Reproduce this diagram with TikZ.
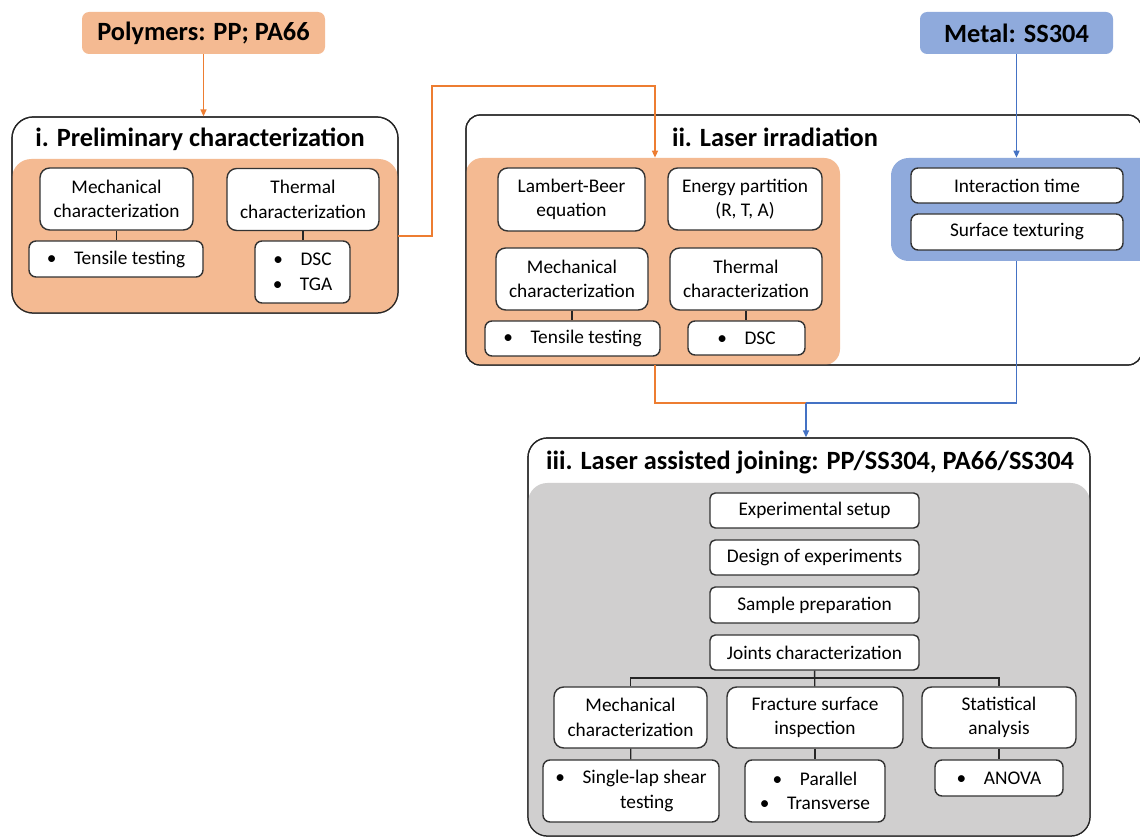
\documentclass[tikz,border=0pt]{standalone}
\usepackage{fontspec}
\setmainfont{Carlito}
\usetikzlibrary{arrows.meta,positioning,calc}
\usepackage{xcolor}
\definecolor{peach}{HTML}{F4BA92}
\definecolor{sky}{HTML}{8FAADC}
\definecolor{ash}{HTML}{D0CFCF}
\definecolor{lineor}{HTML}{ED7D31}
\definecolor{linebl}{HTML}{4472C4}
\newdimen\pxu \pxu=0.02cm

\begin{document}
\begin{tikzpicture}[x=0.02cm, y=-0.02cm,
  frame/.style={rectangle, draw=black!85, line width=0.7pt, inner sep=0pt},
  zone/.style={rectangle, inner sep=0pt},
  head/.style={font=\fontsize{15}{18}\selectfont\bfseries, inner sep=0pt},
  box/.style={rectangle, rounded corners=5.5pt, draw=black!80, line width=0.8pt, fill=white, align=center, font=\fontsize{11}{14}\selectfont, inner sep=0pt},
  bbox/.style={box, rounded corners=4pt},
  sbox/.style={box, rounded corners=3pt},
  olin/.style={draw=lineor, line width=0.8pt},
  blin/.style={draw=linebl, line width=0.8pt},
  tip/.style={-{Triangle[length=1.4mm, width=1.2mm]}},
  lnk/.style={draw=black!85, line width=0.8pt}
]
\clip (0,0) rectangle (1140,837);
% materiales
\node[zone, fill=peach, rounded corners=4pt, minimum width=243\pxu, minimum height=42\pxu, head] (poly) at (203.5,33) {Polymers: PP; PA66};
\node[zone, fill=sky, rounded corners=4pt, minimum width=193\pxu, minimum height=42\pxu, head] (metal) at (1016.5,33) {Metal: SS304};
% i. preliminary characterization
\node[frame, fill=white, rounded corners=12pt, minimum width=386\pxu, minimum height=196\pxu] (fr1) at (205,215) {};
\node[zone, fill=peach, rounded corners=11pt, minimum width=386\pxu, minimum height=154\pxu] (zn1) at (205,236) {};
\node[frame, rounded corners=12pt, minimum width=386\pxu, minimum height=196\pxu] at (205,215) {};
\node[head] (tt1) at (200,139) {i. Preliminary characterization};
\node[box, minimum width=153\pxu, minimum height=62\pxu] (mech1) at (116.5,199) {Mechanical\\characterization};
\node[bbox, minimum width=174\pxu, minimum height=36\pxu] (tens1) at (116,259) {\textbullet\hspace{10pt}Tensile testing};
\node[box, minimum width=152\pxu, minimum height=62\pxu] (therm1) at (303,199.5) {Thermal\\characterization};
\node[bbox, minimum width=95\pxu, minimum height=62\pxu] (dsc1) at (302.5,272) {\textbullet\hspace{10pt}DSC\\\textbullet\hspace{10pt}TGA};
% ii. laser irradiation
\node[frame, fill=white, rounded corners=8pt, minimum width=676\pxu, minimum height=250\pxu] (fr2) at (804,240) {};
\node[zone, fill=peach, rounded corners=9pt, minimum width=374\pxu, minimum height=207\pxu] (zn2) at (653,261.5) {};
\node[zone, fill=sky, rounded corners=10pt, minimum width=269\pxu, minimum height=103\pxu] (zn3) at (1025.5,209.5) {};
\node[frame, rounded corners=8pt, minimum width=676\pxu, minimum height=250\pxu] at (804,240) {};
\node[head] (tt2) at (775,137) {ii. Laser irradiation};
\node[box, minimum width=147\pxu, minimum height=63\pxu] (lamb) at (571.5,199.5) {Lambert-Beer\\equation};
\node[box, minimum width=154\pxu, minimum height=62\pxu] (ener) at (745,199) {Energy partition\\(R, T, A)};
\node[box, minimum width=152\pxu, minimum height=62\pxu] (mech2) at (572,279) {Mechanical\\characterization};
\node[box, minimum width=152\pxu, minimum height=62\pxu] (therm2) at (746,279) {Thermal\\characterization};
\node[bbox, minimum width=175\pxu, minimum height=35\pxu] (tens2) at (572.5,338.5) {\textbullet\hspace{10pt}Tensile testing};
\node[bbox, minimum width=117\pxu, minimum height=34\pxu] (dsc2) at (746.5,338) {\textbullet\hspace{10pt}DSC};
\node[bbox, minimum width=212\pxu, minimum height=35\pxu] (inter) at (1017,185.5) {Interaction time};
\node[bbox, minimum width=212\pxu, minimum height=36\pxu] (surf) at (1017,232) {Surface texturing};
% iii. laser assisted joining
\node[frame, fill=white, rounded corners=11pt, minimum width=562\pxu, minimum height=398\pxu] (fr3) at (809,637) {};
\node[zone, fill=ash, rounded corners=11pt, minimum width=562\pxu, minimum height=353\pxu] (zn4) at (809,659.5) {};
\node[frame, rounded corners=11pt, minimum width=562\pxu, minimum height=398\pxu] at (809,637) {};
\node[head] (tt3) at (810,462) {iii. Laser assisted joining: PP/SS304, PA66/SS304};
\node[sbox, minimum width=209\pxu, minimum height=35\pxu] (exp) at (814.5,510.5) {Experimental setup};
\node[sbox, minimum width=209\pxu, minimum height=35\pxu] (doe) at (814.5,557.5) {Design of experiments};
\node[sbox, minimum width=209\pxu, minimum height=36\pxu] (samp) at (814.5,605) {Sample preparation};
\node[sbox, minimum width=209\pxu, minimum height=35\pxu] (joint) at (814.5,652.5) {Joints characterization};
\node[box, minimum width=153\pxu, minimum height=61\pxu] (mech3) at (630.5,717.5) {Mechanical\\characterization};
\node[box, minimum width=176\pxu, minimum height=61\pxu] (frac) at (815,717.5) {Fracture surface\\inspection};
\node[box, minimum width=154\pxu, minimum height=61\pxu] (stat) at (999,717.5) {Statistical\\analysis};
\node[bbox, minimum width=176\pxu, minimum height=62\pxu] (slap) at (631,791) {\textbullet\hspace{10pt}Single-lap shear\\\hspace{18pt}testing};
\node[bbox, minimum width=140\pxu, minimum height=62\pxu] (par) at (815,791) {\textbullet\hspace{10pt}Parallel\\\textbullet\hspace{10pt}Transverse};
\node[bbox, minimum width=128\pxu, minimum height=36\pxu] (anova) at (999,778) {\textbullet\hspace{10pt}ANOVA};
% puntos de quiebre
\coordinate (k1) at (432,86);
\coordinate (k2) at (655,86);
\coordinate (jn) at (806,403);
\coordinate (br) at (814.5,678);
% flechas entre paneles
\draw[olin, tip] (poly.south) -- (poly.south |- fr1.north);
\draw[olin, tip] (zn1.east) -| (k1) -- (k2) -- (k2 |- zn2.north);
\draw[blin, tip] (metal.south) -- (metal.south |- zn3.north);
\draw[olin] (k2 |- zn2.south) |- (jn);
\draw[blin] (metal.south |- zn3.south) |- (jn);
\draw[blin, tip] (jn) -- (jn |- fr3.north);
% enlaces internos
\draw[lnk] (mech1) -- (mech1 |- tens1.north);
\draw[lnk] (therm1) -- (therm1 |- dsc1.north);
\draw[lnk] (mech2) -- (mech2 |- tens2.north);
\draw[lnk] (therm2) -- (therm2 |- dsc2.north);
\draw[lnk] (joint) -- (frac);
\draw[lnk] (mech3.north) |- (br) -| (stat.north);
\draw[lnk] (mech3) -- (slap);
\draw[lnk] (frac) -- (par);
\draw[lnk] (stat) -- (anova);
\end{tikzpicture}
\end{document}
